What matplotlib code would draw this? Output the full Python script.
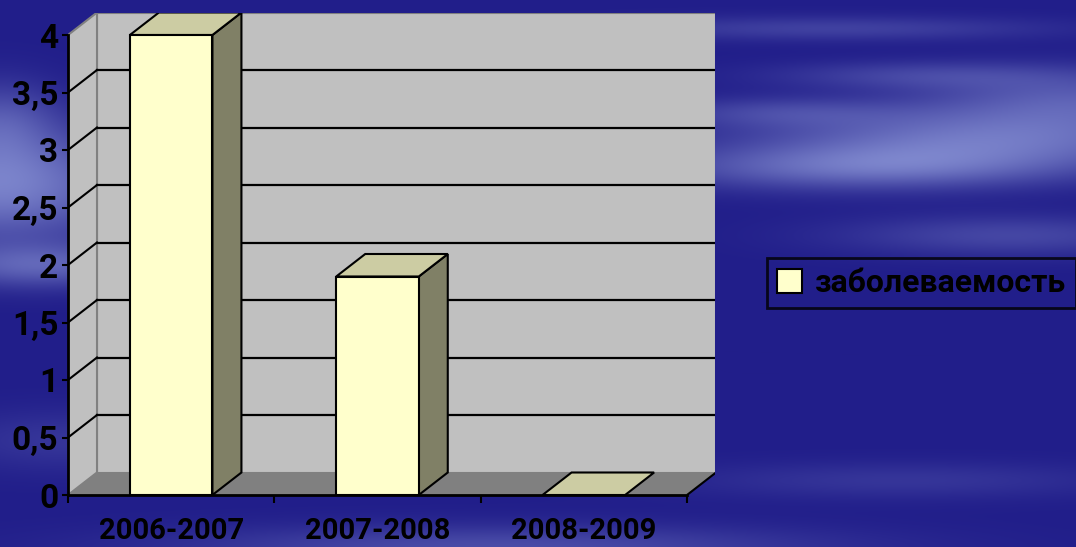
import numpy as np
import matplotlib
matplotlib.use("Agg")
import matplotlib.pyplot as plt
from matplotlib.patches import Polygon, Rectangle

# ---- data ----
categories = ["2006-2007", "2007-2008", "2008-2009"]
values = [4.0, 1.9, 0.0]
series_name = "заболеваемость"
y_ticks = [0, 0.5, 1, 1.5, 2, 2.5, 3, 3.5, 4]
y_tick_labels = ["0", "0,5", "1", "1,5", "2", "2,5", "3", "3,5", "4"]

W, H = 1076, 547
fig = plt.figure(figsize=(W / 100, H / 100), dpi=100)

# ---- background (smooth blue cloud texture) ----
bg = fig.add_axes([0, 0, 1, 1], zorder=0)
yy, xx = np.mgrid[0:H, 0:W].astype(float)
blobs = [
    (0, 185, 130, 55, 0.85), (40, 265, 110, 22, 0.55), (0, 120, 60, 40, 0.4),
    (980, 140, 230, 30, 0.7), (860, 168, 200, 22, 0.6), (1076, 100, 160, 30, 0.5),
    (830, 28, 220, 12, 0.3), (1010, 235, 170, 20, 0.35), (780, 112, 120, 15, 0.3),
    (920, 75, 150, 14, 0.3),
    (500, 547, 320, 22, 0.4), (900, 480, 220, 18, 0.2), (60, 440, 120, 30, 0.2),
]
t = np.zeros((H, W))
for cx, cy, sx, sy, s in blobs:
    t += s * np.exp(-(((xx - cx) / sx) ** 2 + ((yy - cy) / sy) ** 2))
t = np.clip(t, 0, 1)
dark = np.array([33, 30, 138]) / 255.0
light = np.array([135, 145, 212]) / 255.0
img = dark[None, None, :] * (1 - t[..., None]) + light[None, None, :] * t[..., None]
bg.imshow(img, extent=[0, W, H, 0], aspect="auto", interpolation="bilinear")
bg.set_axis_off()

# ---- plot geometry ----
x_front_left, x_front_right, x_back_right = 68, 687, 715
y_zero, y_top = 495, 13
ax = fig.add_axes([x_front_left / W, (H - y_zero) / H,
                   (x_back_right - x_front_left) / W, (y_zero - y_top) / H], zorder=1)
xunit = (x_front_right - x_front_left) / 3.0
yunit = (y_zero - 35) / 4.0
dx = 29 / xunit
dy = 22.5 / yunit
x0, x1 = -0.5, 2.5
ax.set_xlim(x0, x0 + (x_back_right - x_front_left) / xunit)
ax.set_ylim(0, (y_zero - y_top) / yunit)
ax.patch.set_alpha(0)
for s in ax.spines.values():
    s.set_visible(False)

wall = "#c0c0c0"
floor = "#808080"
edge_gray = "#808080"
ymax = max(y_ticks)

# back wall
ax.add_patch(Rectangle((x0 + dx, dy), x1 - x0, ymax, facecolor=wall,
                       edgecolor=edge_gray, lw=1.5, zorder=1))
# left wall
ax.add_patch(Polygon([(x0, 0), (x0 + dx, dy), (x0 + dx, ymax + dy), (x0, ymax)],
                     closed=True, facecolor=wall, edgecolor=edge_gray, lw=1.5, zorder=1))
# floor
ax.add_patch(Polygon([(x0, 0), (x1, 0), (x1 + dx, dy), (x0 + dx, dy)],
                     closed=True, facecolor=floor, edgecolor="none", zorder=1.5))
ax.plot([x1, x1 + dx], [0, dy], color="black", lw=1.5, zorder=2, solid_capstyle="butt")

# gridlines
for v in y_ticks[1:-1]:
    ax.plot([x0 + dx, x1 + dx], [v + dy, v + dy], color="black", lw=1.6, zorder=2)
    ax.plot([x0, x0 + dx], [v, v + dy], color="black", lw=1.5, zorder=2)

# front axes lines
ax.plot([x0, x0], [0, ymax], color="black", lw=2, zorder=6, clip_on=False)
ax.plot([x0, x1], [0, 0], color="black", lw=2, zorder=6, clip_on=False)

# bars
bw = 0.2
front_c, top_c, side_c = "#ffffcc", "#cccca3", "#808066"
for i, v in enumerate(values):
    l, r = i - bw, i + bw
    if v > 0:
        ax.add_patch(Polygon([(r, 0), (r + dx, dy), (r + dx, v + dy), (r, v)], closed=True,
                             facecolor=side_c, edgecolor="black", lw=1.5, zorder=3))
        ax.add_patch(Rectangle((l, 0), 2 * bw, v, facecolor=front_c,
                               edgecolor="black", lw=1.5, zorder=4))
    ax.add_patch(Polygon([(l, v), (r, v), (r + dx, v + dy), (l + dx, v + dy)], closed=True,
                         facecolor=top_c, edgecolor="black", lw=1.5, zorder=3.5))

# ticks and labels
tick_font = dict(family=["Roboto", "DejaVu Sans"], weight="bold")
ax.set_yticks(y_ticks)
ax.set_yticklabels(y_tick_labels, fontsize=24, **tick_font)
ax.tick_params(axis="y", length=4, width=1.5, color="black", pad=3, direction="out")
ax.set_xticks(range(len(categories)))
ax.set_xticklabels(categories, fontsize=21, **tick_font)
ax.tick_params(axis="x", which="major", length=0, pad=16)
ax.set_xticks([x0 + k for k in range(len(categories) + 1)], minor=True)
ax.tick_params(axis="x", which="minor", length=6, width=1.5, color="black", direction="out")

# legend
proxy = Rectangle((0, 0), 1, 1, facecolor=front_c, edgecolor="black", lw=1.5)
leg = fig.legend([proxy], [series_name], loc="center left",
                 bbox_to_anchor=(767 / W, 1 - 283 / H),
                 prop=dict(family=["Roboto", "DejaVu Sans"], weight="bold", size=23),
                 frameon=True, fancybox=False, handlelength=0.8, handleheight=0.8,
                 handletextpad=0.4, borderpad=0.3, borderaxespad=0)
leg.get_frame().set_facecolor("none")
leg.get_frame().set_edgecolor("black")
leg.get_frame().set_linewidth(2)
leg.set_zorder(5)

fig.savefig("out.png", dpi=100)
